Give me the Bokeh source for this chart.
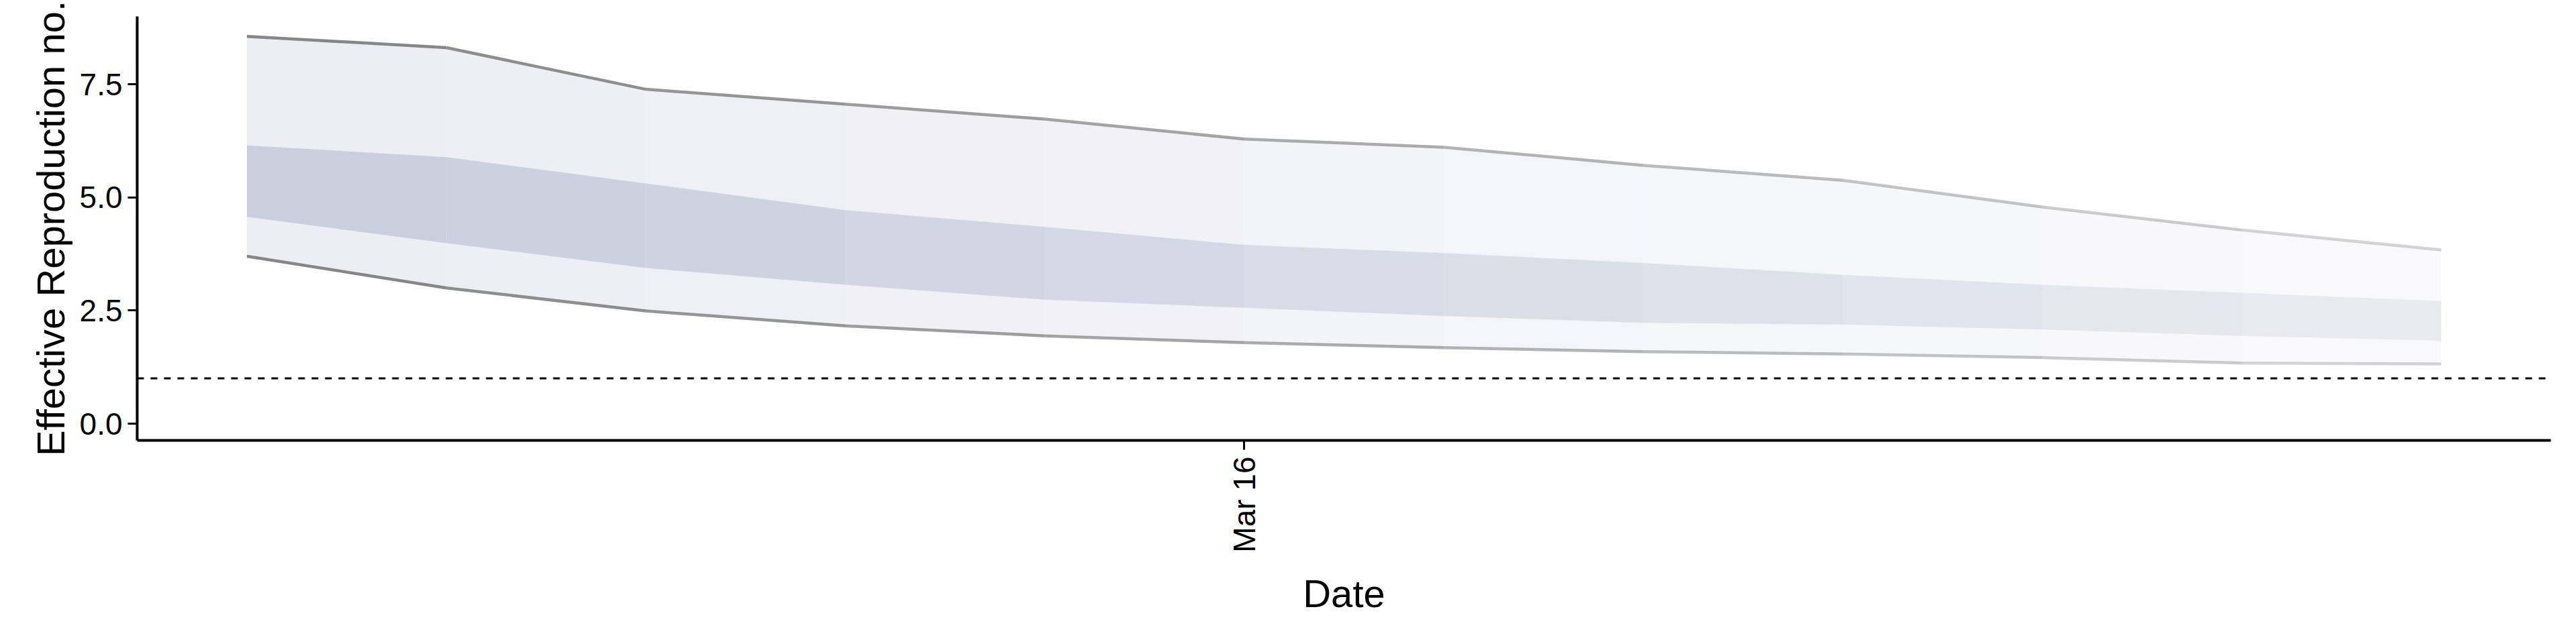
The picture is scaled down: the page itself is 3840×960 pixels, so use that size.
import math
import numpy as np
import pandas as pd
from bokeh.plotting import figure
from bokeh.models import FixedTicker, DatetimeTickFormatter, Span, Range1d, NumeralTickFormatter
from bokeh.embed import file_html
from bokeh.resources import INLINE

dates = pd.date_range("2020-03-11", "2020-03-22", freq="D")
upper95 = [8.56, 8.31, 7.39, 7.06, 6.73, 6.29, 6.11, 5.71, 5.38, 4.79, 4.28, 3.84]
upper50 = [6.15, 5.89, 5.31, 4.72, 4.35, 3.95, 3.77, 3.55, 3.29, 3.07, 2.89, 2.71]
lower50 = [4.57, 3.99, 3.44, 3.07, 2.74, 2.56, 2.38, 2.23, 2.19, 2.08, 1.94, 1.83]
lower95 = [3.70, 3.00, 2.49, 2.16, 1.94, 1.79, 1.68, 1.59, 1.54, 1.46, 1.34, 1.32]
y_ticks = [0, 2.5, 5, 7.5]
tick_date = pd.Timestamp("2020-03-16")

FONT = "Liberation Sans"
day = pd.Timedelta(days=1)
p = figure(width=3824, height=944, x_axis_type="datetime",
           output_backend="svg", toolbar_location=None,
           x_range=Range1d(dates[0] - 0.55 * day, dates[-1] + 0.55 * day),
           y_range=Range1d(-0.37, 9.0),
           min_border_left=204, min_border_top=24, min_border_right=22, min_border_bottom=288)
p.outline_line_color = None
p.xgrid.visible = False
p.ygrid.visible = False

n = len(dates)
alphas = np.linspace(1.0, 0.35, n - 1)
for i in range(n - 1):
    xs = [dates[i], dates[i + 1], dates[i + 1], dates[i]]
    p.patch(xs, [upper95[i], upper95[i + 1], lower95[i + 1], lower95[i]],
            fill_color="#edeef3", fill_alpha=alphas[i], line_color=None)
for i in range(n - 1):
    xs = [dates[i], dates[i + 1], dates[i + 1], dates[i]]
    p.patch(xs, [upper50[i], upper50[i + 1], lower50[i + 1], lower50[i]],
            fill_color="#c9cfdd", fill_alpha=alphas[i], line_color=None)
for i in range(n - 1):
    for arr in (upper95, lower95):
        p.line([dates[i], dates[i + 1]], [arr[i], arr[i + 1]],
               line_color="#808080", line_alpha=alphas[i] * 0.95, line_width=4.5)

p.add_layout(Span(location=1, dimension="width", line_color="black",
                  line_dash="10 10", line_width=3))

p.xaxis.ticker = FixedTicker(ticks=[tick_date.value / 1e6])
p.xaxis.formatter = DatetimeTickFormatter(days="%b %d", months="%b %d", years="%b %d",
                                          hours="%b %d", context=None)
p.xaxis.major_label_orientation = math.pi / 2
p.yaxis.ticker = FixedTicker(ticks=y_ticks)
p.yaxis.formatter = NumeralTickFormatter(format="0.0")
for ax in (p.xaxis, p.yaxis):
    ax.axis_line_width = 4
    ax.axis_line_color = "black"
    ax.major_tick_line_width = 3
    ax.major_tick_out = 14
    ax.major_tick_in = 0
    ax.minor_tick_line_color = None
    ax.major_label_text_font = FONT
    ax.major_label_text_font_size = "46px"
    ax.major_label_text_color = "black"
    ax.axis_label_text_font = FONT
    ax.axis_label_text_font_size = "58px"
    ax.axis_label_text_font_style = "normal"
    ax.axis_label_text_color = "black"
p.xaxis.axis_label = "Date"
p.yaxis.axis_label = "Effective Reproduction no."
p.xaxis.major_label_standoff = 10
p.yaxis.major_label_standoff = 8
p.xaxis.axis_label_standoff = 25
p.yaxis.axis_label_standoff = 8

open("out.html", "w").write(file_html(p, INLINE))
